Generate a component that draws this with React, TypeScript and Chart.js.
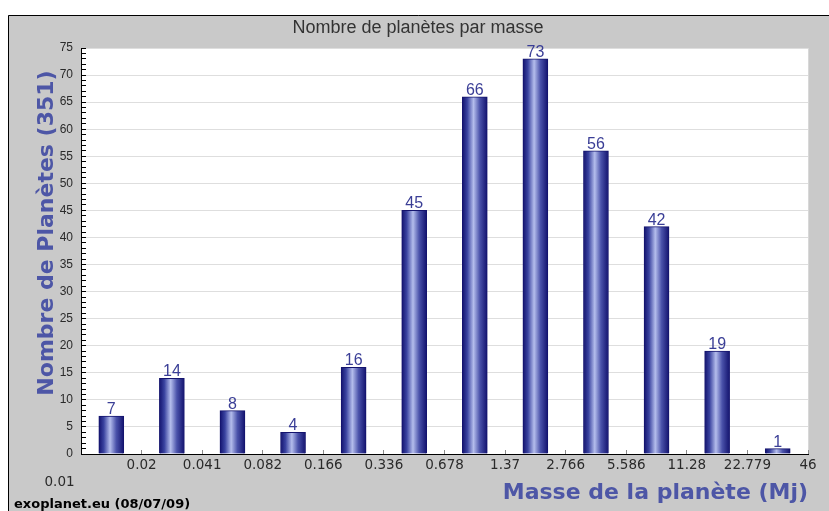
import React, { useEffect, useRef } from 'react';
import { Chart, registerables } from 'chart.js';

Chart.register(...registerables);

// ---- data ----
const massEdges = ['0.01', '0.02', '0.041', '0.082', '0.166', '0.336', '0.678', '1.37', '2.766', '5.586', '11.28', '22.779', '46'];
const planetCounts = [7, 14, 8, 4, 16, 45, 66, 73, 56, 42, 19, 1];
const yMax = 75;
const yMajorStep = 5;
const chartTitle = 'Nombre de planètes par masse';
const yAxisTitle = 'Nombre de Planètes (351)';
const xAxisTitle = 'Masse de la planète (Mj)';
const footerText = 'exoplanet.eu (08/07/09)';

const AXIS_BLUE = '#4d56a6';
const LABEL_BLUE = '#3a3e96';
const FRAME_GRAY = '#c9c9c9';
const BAR_W = 25;

function barGradient(ctx: CanvasRenderingContext2D, cx: number, half: number) {
  const g = ctx.createLinearGradient(cx - half, 0, cx + half, 0);
  g.addColorStop(0, '#12126e');
  g.addColorStop(0.2, '#3a43a0');
  g.addColorStop(0.45, '#b4bdec');
  g.addColorStop(0.7, '#4a52aa');
  g.addColorStop(1, '#12126e');
  return g;
}

const framePlugin = {
  id: 'frame',
  beforeDraw(chart: any) {
    const { ctx, width, height, chartArea } = chart;
    ctx.save();
    ctx.fillStyle = '#ffffff';
    ctx.fillRect(0, 0, width, height);
    ctx.fillStyle = FRAME_GRAY;
    ctx.fillRect(8, 15, width - 8, height - 15);
    ctx.strokeStyle = '#000000';
    ctx.lineWidth = 1;
    ctx.beginPath();
    ctx.moveTo(8.5, height);
    ctx.lineTo(8.5, 15.5);
    ctx.lineTo(width, 15.5);
    ctx.stroke();
    ctx.fillStyle = '#ffffff';
    ctx.fillRect(chartArea.left, chartArea.top, chartArea.right - chartArea.left, chartArea.bottom - chartArea.top);
    ctx.strokeStyle = '#d8d8d8';
    ctx.beginPath();
    ctx.moveTo(chartArea.right + 0.5, chartArea.top);
    ctx.lineTo(chartArea.right + 0.5, chartArea.bottom);
    ctx.stroke();
    ctx.restore();
  },
  afterDatasetsDraw(chart: any) {
    const { ctx } = chart;
    const meta = chart.getDatasetMeta(0);
    ctx.save();
    ctx.font = '16px "Liberation Sans", Arial, sans-serif';
    ctx.fillStyle = LABEL_BLUE;
    ctx.textAlign = 'center';
    ctx.textBaseline = 'alphabetic';
    meta.data.forEach((el: any, i: number) => {
      ctx.fillText(String(planetCounts[i]), el.x, el.y - 2);
    });
    ctx.restore();
  },
  afterDraw(chart: any) {
    const { ctx } = chart;
    ctx.save();
    ctx.font = 'bold 22px "DejaVu Sans", sans-serif';
    ctx.fillStyle = AXIS_BLUE;
    ctx.translate(53, 233);
    ctx.rotate(-Math.PI / 2);
    ctx.textAlign = 'center';
    ctx.textBaseline = 'alphabetic';
    ctx.fillText(yAxisTitle, 0, 0);
    ctx.restore();

    ctx.save();
    ctx.font = 'bold 13px "DejaVu Sans", sans-serif';
    ctx.fillStyle = '#000000';
    ctx.textAlign = 'left';
    ctx.textBaseline = 'alphabetic';
    ctx.fillText(footerText, 14, 508);
    ctx.restore();
  },
};

export default function App() {
  const canvasRef = useRef<HTMLCanvasElement | null>(null);

  useEffect(() => {
    const canvas = canvasRef.current;
    if (!canvas) return;
    const chart = new Chart(canvas, {
      type: 'bar',
      data: {
        datasets: [
          {
            data: planetCounts.map((c, i) => ({ x: i + 0.5, y: c })),
            barThickness: BAR_W,
            borderWidth: 1,
            borderColor: '#14146e',
            backgroundColor: (c: any) => {
              const ch = c.chart;
              const xs = ch.scales && ch.scales.x;
              if (!xs || c.type !== 'data') return '#2a2a90';
              const cx = xs.getPixelForValue(c.dataIndex + 0.5);
              if (!isFinite(cx)) return '#2a2a90';
              return barGradient(ch.ctx, cx, BAR_W / 2);
            },
          },
        ],
      },
      options: {
        animation: false,
        responsive: false,
        maintainAspectRatio: false,
        events: [],
        layout: { padding: { left: 7, top: 0, right: 0, bottom: 0 } },
        plugins: {
          legend: { display: false },
          tooltip: { enabled: false },
          title: {
            display: true,
            text: chartTitle,
            color: '#333333',
            font: { family: '"Liberation Sans", Arial, sans-serif', size: 18, weight: 'normal' },
            padding: { top: 17, bottom: 9.4 },
          },
        },
        scales: {
          x: {
            type: 'linear',
            position: 'bottom',
            offset: false,
            min: 0,
            max: massEdges.length - 1,
            afterFit: (s: any) => { s.height = 57; },
            grid: {
              offset: false,
              drawOnChartArea: false,
              drawTicks: true,
              tickLength: -4,
              tickColor: '#8a8a8a',
            },
            border: { display: true, color: '#000000', width: 1 },
            ticks: {
              stepSize: 1,
              autoSkip: false,
              maxRotation: 0,
              padding: 7,
              color: '#2a2a2a',
              font: { family: '"DejaVu Sans", sans-serif', size: 13.5, lineHeight: 1.25 },
              callback: (v: any) => {
                const lbl = massEdges[v as number];
                if (lbl === undefined) return '';
                // first edge label sits one line lower and left of the axis origin
                return v === 0 ? ['', lbl + '          '] : lbl;
              },
            },
            title: {
              display: true,
              text: xAxisTitle,
              align: 'end',
              color: AXIS_BLUE,
              font: { family: '"DejaVu Sans", sans-serif', size: 22, weight: 'bold' },
              padding: { top: 0, bottom: 5 },
            },
          },
          y: {
            type: 'linear',
            position: 'left',
            min: 0,
            max: yMax,
            afterFit: (s: any) => { s.width = 74; },
            grid: {
              color: (c: any) => (c.tick && c.tick.value % yMajorStep === 0 && c.tick.value !== 0 ? '#dedede' : 'rgba(0,0,0,0)'),
              drawTicks: true,
              tickLength: -5,
              tickColor: '#000000',
            },
            border: { display: true, color: '#000000', width: 1 },
            ticks: {
              stepSize: 1,
              autoSkip: false,
              padding: 13,
              color: '#2a2a2a',
              font: { family: '"Liberation Sans", Arial, sans-serif', size: 12 },
              callback: (v: any) => (v % yMajorStep === 0 ? String(v) : ''),
            },
          },
          yRight: {
            type: 'linear',
            position: 'right',
            display: true,
            afterFit: (s: any) => { s.width = 21; },
            grid: { display: false, drawTicks: false },
            border: { display: false },
            ticks: { display: false },
          },
        },
      },
      plugins: [framePlugin],
    } as any);
    return () => chart.destroy();
  }, []);

  return (
    <div style={{ position: 'absolute', left: 0, top: 0, width: 829, height: 511 }}>
      <canvas ref={canvasRef} width={829} height={511} style={{ display: 'block', width: 829, height: 511 }} />
    </div>
  );
}
